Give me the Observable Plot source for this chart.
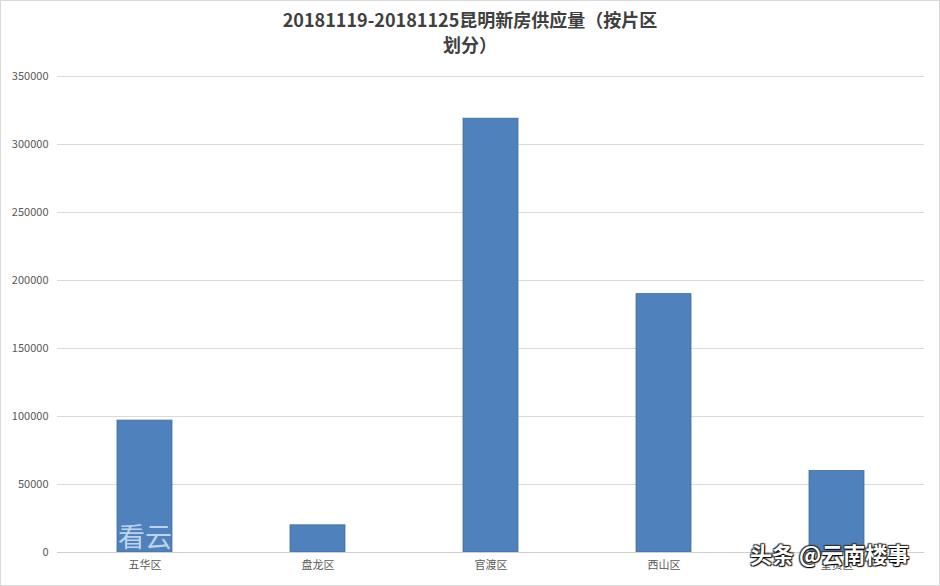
<!DOCTYPE html>
<html>
<head>
<meta charset="utf-8">
<script src="https://cdn.jsdelivr.net/npm/d3@7"></script>
<script src="https://cdn.jsdelivr.net/npm/@observablehq/plot@0.6"></script>
<style>
  html, body { margin: 0; padding: 0; background: #fff; }
  #wrap { position: relative; width: 940px; height: 586px; overflow: hidden; font-family: "Noto Sans CJK SC", "Noto Sans", sans-serif; }
  #frame { position: absolute; left: 0; top: 0; width: 938px; height: 584px; border: 1px solid #d9d9d9; pointer-events: none; }
  #title { position: absolute; left: 0; width: 940px; top: 7px; text-align: center; font-size: 18px; font-weight: bold; color: #404040; line-height: 25px; }
  #chart { position: absolute; left: 0; top: 0; }
  .wm1 { position: absolute; left: 118px; top: 516px; font-size: 27px; color: rgba(210,225,245,0.85); font-family: "Noto Sans CJK SC", serif; }
  .wm2 { position: absolute; left: 750px; top: 537px; font-size: 22px; color: #fff; font-weight: bold; text-shadow: 1px 1px 1px #000, -1px -1px 1px #333, 1px -1px 1px #333, -1px 1px 1px #333; }
</style>
</head>
<body>
<div id="wrap">
  <div id="chart"></div>
  <div id="title">20181119-20181125昆明新房供应量（按片区<br>划分）</div>
  <div class="wm1">看云</div>
  <div class="wm2">头条 @云南楼事</div>
  <div id="frame"></div>
</div>
<script>
const districts = ["五华区", "盘龙区", "官渡区", "西山区", "呈贡区"];
const supply = [97000, 20000, 319000, 190000, 60000];
const yTicks = [0, 50000, 100000, 150000, 200000, 250000, 300000, 350000];

const data = districts.map((d, i) => ({district: d, value: supply[i]}));

const chart = Plot.plot({
  width: 940,
  height: 586,
  marginLeft: 57,
  marginRight: 16,
  marginTop: 76,
  marginBottom: 34,
  style: {fontFamily: "'Noto Sans CJK SC', 'Noto Sans', sans-serif", fontSize: "11px", color: "#595959", background: "transparent"},
  x: {domain: districts, paddingInner: 0.68, paddingOuter: 0.34, label: null, tickSize: 0, tickPadding: 9},
  y: {domain: [0, 350000], ticks: yTicks, tickFormat: d => String(d), label: null, tickSize: 0, tickPadding: 9},
  marks: [
    Plot.gridY(yTicks, {stroke: "#d9d9d9", strokeOpacity: 1, strokeWidth: 1}),
    Plot.barY(data, {x: "district", y: "value", fill: "#4f81bd", stroke: "#41719c", strokeWidth: 0.8}),
    Plot.ruleY([0], {stroke: "#d0d0d0", strokeWidth: 1})
  ]
});
document.getElementById("chart").appendChild(chart);
</script>
</body>
</html>
